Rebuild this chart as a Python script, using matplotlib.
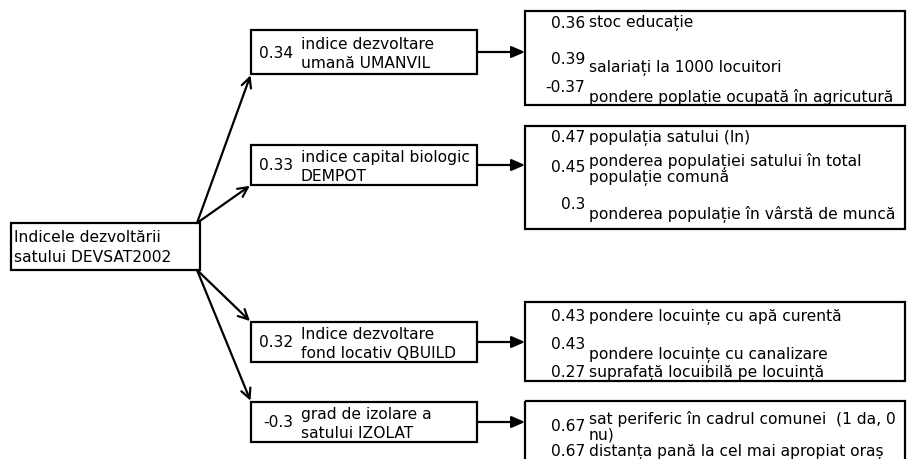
import matplotlib
matplotlib.use('Agg')
import matplotlib.pyplot as plt
from matplotlib.patches import Rectangle, FancyArrowPatch

plt.rcParams['font.family'] = ['DejaVu Sans']

# --- data ---
root_label = 'Indicele dezvoltării\nsatului DEVSAT2002'
mid_loadings = ['0.34', '0.33', '0.32', '-0.3']
mid_labels = ['indice dezvoltare\numană UMANVIL',
              'indice capital biologic\nDEMPOT',
              'Indice dezvoltare\nfond locativ QBUILD',
              'grad de izolare a\nsatului IZOLAT']
sub_loadings = [['0.36', '0.39', '-0.37'],
                ['0.47', '0.45', '0.3'],
                ['0.43', '0.43', '0.27'],
                ['0.67', '0.67']]
sub_labels = [['stoc educație', 'salariați la 1000 locuitori',
               'pondere poplație ocupată în agricutură'],
              ['populația satului (ln)',
               'ponderea populației satului în total\npopulație comună',
               'ponderea populație în vârstă de muncă'],
              ['pondere locuințe cu apă curentă', 'pondere locuințe cu canalizare',
               'suprafață locuibilă pe locuință'],
              ['sat periferic în cadrul comunei  (1 da, 0\nnu)',
               'distanța pană la cel mai apropiat oraș']]

# --- layout (pixel coords, y down) ---
W, H = 907, 460
root_box = (11, 224, 200, 271)
mid_boxes = [(251, 31, 477, 75), (251, 146, 477, 186),
             (251, 323, 477, 363), (251, 403, 477, 443)]
right_boxes = [(525, 12, 905, 106), (525, 127, 905, 230),
               (525, 303, 905, 382), (525, 402, 905, 470)]
# y of (number, text) per sub line
sub_y = [[(23, 23), (60, 68), (88, 97)],
         [(138, 138), (168, 170), (205, 215)],
         [(317, 317), (345, 355), (373, 373)],
         [(427, 427), (452, 452)]]
FS = 11.2

fig = plt.figure(figsize=(W / 100, H / 100), dpi=100)
ax = fig.add_axes([0, 0, 1, 1])
ax.set_xlim(0, W)
ax.set_ylim(H, 0)
ax.axis('off')

def box(b):
    x0, y0, x1, y1 = b
    ax.add_patch(Rectangle((x0, y0), x1 - x0, y1 - y0, fill=False,
                           edgecolor='black', linewidth=1.6, clip_on=True))

box(root_box)
ax.text(root_box[0] + 3, (root_box[1] + root_box[3]) / 2, root_label,
        fontsize=FS, va='center', ha='left', linespacing=1.4)

for i, mb in enumerate(mid_boxes):
    box(mb)
    cy = (mb[1] + mb[3]) / 2
    ax.text(293, cy, mid_loadings[i], fontsize=FS, ha='right', va='center')
    ax.text(301, cy + 1, mid_labels[i], fontsize=FS, ha='left', va='center',
            linespacing=1.35)
    # arrow from root
    start_y = root_box[1] if i < 2 else root_box[3]
    end = (mb[0], mb[3]) if i < 2 else (mb[0], mb[1])
    ax.add_patch(FancyArrowPatch((root_box[2] - 3, start_y), end,
                                 arrowstyle='->,head_length=7,head_width=3.5',
                                 color='black', linewidth=1.6,
                                 shrinkA=0, shrinkB=1, mutation_scale=1))
    # arrow to right box
    rb = right_boxes[i]
    ax.add_patch(FancyArrowPatch((mb[2], cy), (rb[0], cy),
                                 arrowstyle='-|>,head_length=8,head_width=3.5',
                                 color='black', linewidth=1.6,
                                 shrinkA=0, shrinkB=0, mutation_scale=1))

for i, rb in enumerate(right_boxes):
    box(rb)
    for j, (num, lab) in enumerate(zip(sub_loadings[i], sub_labels[i])):
        ny, ty = sub_y[i][j]
        ax.text(585, ny, num, fontsize=FS, ha='right', va='center')
        ax.text(589, ty, lab, fontsize=FS, ha='left', va='center',
                linespacing=1.0)

fig.savefig('out.png', dpi=100)
